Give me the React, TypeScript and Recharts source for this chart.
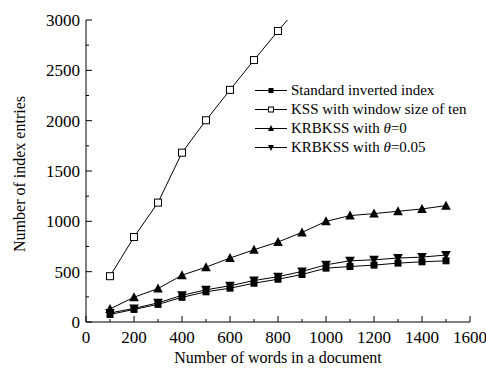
import { LineChart, Line, XAxis, YAxis, Legend } from 'recharts';

const FONT = '"Liberation Serif", "Times New Roman", serif';

const words = [100, 200, 300, 400, 500, 600, 700, 800, 900, 1000, 1100, 1200, 1300, 1400, 1500];
const standardIndex = [75, 125, 175, 245, 300, 336, 385, 425, 472, 535, 551, 565, 585, 598, 608];
const kssWindowTen = [455, 844, 1186, 1682, 2004, 2306, 2602, 2891, 3170];
const krbkssZero = [130, 246, 332, 465, 545, 635, 718, 795, 890, 1000, 1057, 1077, 1100, 1123, 1156];
const krbkssFive = [90, 135, 190, 265, 320, 360, 412, 450, 502, 568, 608, 618, 635, 645, 665];

const xTicks = [0, 100, 200, 300, 400, 500, 600, 700, 800, 900, 1000, 1100, 1200, 1300, 1400, 1500, 1600];
const xLabels = [0, 200, 400, 600, 800, 1000, 1200, 1400, 1600];
const yTicks = [0, 250, 500, 750, 1000, 1250, 1500, 1750, 2000, 2250, 2500, 2750, 3000];
const yLabels = [0, 500, 1000, 1500, 2000, 2500, 3000];

const seriesNames = ['Standard inverted index', 'KSS with window size of ten', 'KRBKSS with θ=0', 'KRBKSS with θ=0.05'];
const seriesKeys = ['standard', 'kss', 'krbZero', 'krbFive'];
const seriesShapes = ['square', 'openSquare', 'triUp', 'triDown'];

const data = words.map((w, i) => ({
  words: w,
  standard: standardIndex[i],
  kss: kssWindowTen[i],
  krbZero: krbkssZero[i],
  krbFive: krbkssFive[i],
}));

function Marker({ shape, cx, cy, s }: { shape: string; cx: number; cy: number; s: number }) {
  const h = s / 2;
  if (shape === 'square') return <rect x={cx - h} y={cy - h} width={s} height={s} fill="#000" />;
  if (shape === 'openSquare')
    return <rect x={cx - h} y={cy - h} width={s} height={s} fill="#fff" stroke="#000" strokeWidth={1} />;
  const w = s * 0.6;
  if (shape === 'triUp')
    return <polygon points={`${cx - w},${cy + h} ${cx + w},${cy + h} ${cx},${cy - h - 1}`} fill="#000" />;
  return <polygon points={`${cx - w},${cy - h} ${cx + w},${cy - h} ${cx},${cy + h + 1}`} fill="#000" />;
}

const makeDot = (shape: string) => (props: any) => {
  const { cx, cy, index } = props;
  if (cx == null || cy == null || props.value == null) return <g key={index} />;
  return <Marker key={index} shape={shape} cx={cx} cy={cy} s={shape.startsWith('tri') ? 8 : 7} />;
};

const XTick = (props: any) => {
  const { x, y, payload } = props;
  const major = xLabels.includes(payload.value);
  return (
    <g>
      <line x1={x} x2={x} y1={y} y2={y - (major ? 6 : 3)} stroke="#000" />
      {major && (
        <text x={x} y={y + 21} textAnchor="middle" style={{ fontFamily: FONT }} fontSize={17} fill="#000">
          {payload.value}
        </text>
      )}
    </g>
  );
};

const YTick = (props: any) => {
  const { x, y, payload } = props;
  const major = yLabels.includes(payload.value);
  return (
    <g>
      <line x1={x} x2={x + (major ? 6 : 3)} y1={y} y2={y} stroke="#000" />
      {major && (
        <text x={x - 6} y={y + 6} textAnchor="end" style={{ fontFamily: FONT }} fontSize={17} fill="#000">
          {payload.value}
        </text>
      )}
    </g>
  );
};

const renderName = (name: string) => {
  const parts = name.split('θ');
  if (parts.length === 1) return name;
  return (
    <>
      {parts[0]}
      <i>θ</i>
      {parts[1]}
    </>
  );
};

const renderLegend = () => (
  <div style={{ fontFamily: FONT, fontSize: 15, color: '#000' }}>
    {seriesNames.map((name, i) => (
      <div key={name} style={{ display: 'flex', alignItems: 'center', height: 19, whiteSpace: 'nowrap' }}>
        <svg width={36} height={19}>
          <line x1={0} x2={32} y1={9.5} y2={9.5} stroke="#000" />
          <Marker shape={seriesShapes[i]} cx={16} cy={9.5} s={5} />
        </svg>
        <span>{renderName(name)}</span>
      </div>
    ))}
  </div>
);

export default function App() {
  return (
    <div style={{ position: 'absolute', left: 0, top: 0, background: '#fff' }}>
      <LineChart width={486} height={374} data={data} margin={{ top: 20, right: 16, bottom: 0, left: 0 }}>
        <XAxis
          dataKey="words"
          type="number"
          domain={[0, 1600]}
          ticks={xTicks}
          interval={0}
          allowDataOverflow
          height={52}
          tickSize={0}
          tickMargin={0}
          tickLine={false}
          axisLine={{ stroke: '#000' }}
          tick={<XTick />}
          label={(p: any) => (
            <text
              x={p.viewBox.x + p.viewBox.width / 2}
              y={p.viewBox.y + 41}
              textAnchor="middle"
              style={{ fontFamily: FONT }}
              fontSize={16}
              fill="#000"
            >
              Number of words in a document
            </text>
          )}
        />
        <YAxis
          type="number"
          domain={[0, 3000]}
          ticks={yTicks}
          interval={0}
          allowDataOverflow
          width={86}
          tickSize={0}
          tickMargin={0}
          tickLine={false}
          axisLine={{ stroke: '#000' }}
          tick={<YTick />}
          label={(p: any) => {
            const cx = p.viewBox.x + 25;
            const cy = p.viewBox.y + p.viewBox.height / 2 + 3;
            return (
              <text
                x={cx}
                y={cy}
                transform={`rotate(-90 ${cx} ${cy})`}
                textAnchor="middle"
                style={{ fontFamily: FONT }}
                fontSize={16}
                fill="#000"
              >
                Number of index entries
              </text>
            );
          }}
        />
        <Legend
          content={renderLegend}
          layout="vertical"
          align="center"
          verticalAlign="middle"
          wrapperStyle={{ position: 'absolute', left: 255, top: 81, width: 'auto' }}
        />
        {seriesKeys.map((key, i) => (
          <Line
            key={key}
            dataKey={key}
            name={seriesNames[i]}
            stroke="#000"
            strokeWidth={1}
            dot={makeDot(seriesShapes[i])}
            activeDot={false}
            isAnimationActive={false}
          />
        ))}
      </LineChart>
    </div>
  );
}
